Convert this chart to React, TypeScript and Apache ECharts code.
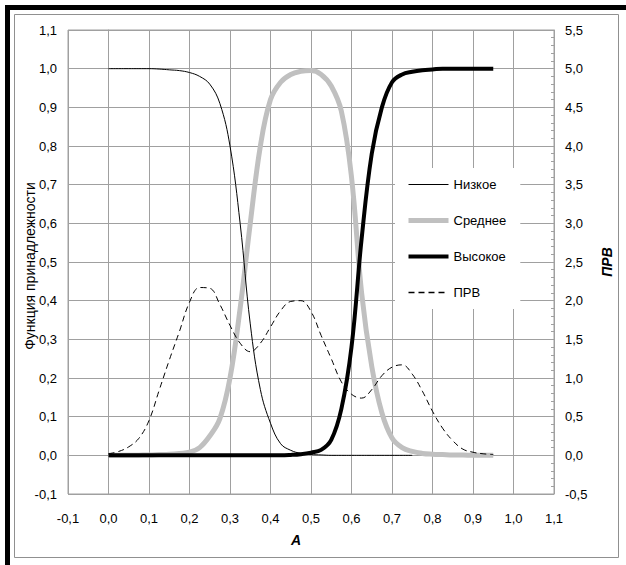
import React, { useEffect, useRef } from 'react';
import * as echarts from 'echarts';

const aValues = [
  0, 0.025, 0.05, 0.075, 0.1, 0.125, 0.15, 0.175, 0.2, 0.225,
  0.25, 0.275, 0.3, 0.325, 0.35, 0.375, 0.4, 0.425, 0.45, 0.475,
  0.5, 0.525, 0.55, 0.575, 0.6, 0.625, 0.65, 0.675, 0.7, 0.725,
  0.75, 0.775, 0.8, 0.825, 0.85, 0.875, 0.9, 0.925, 0.95,
];

const lowValues = [
  1.0, 1.0, 1.0, 1.0, 1.0, 0.999, 0.997, 0.995, 0.99, 0.98,
  0.96, 0.91, 0.8, 0.6, 0.34, 0.17, 0.083, 0.03, 0.013, 0.005,
  0.002, 0.001, 0, 0, 0, 0, 0, 0, 0, 0,
  0, null, null, null, null, null, null, null, null,
];

const midValues = [
  0, 0, 0, 0.0005, 0.001, 0.002, 0.003, 0.005, 0.008, 0.02,
  0.05, 0.095, 0.2, 0.38, 0.6, 0.8, 0.92, 0.965, 0.985, 0.993,
  0.995, 0.985, 0.955, 0.89, 0.72, 0.42, 0.23, 0.11, 0.045, 0.02,
  0.01, 0.005, 0.003, 0.002, 0.001, 0.001, 0, 0, 0,
];

const highValues = [
  0, 0, 0, 0, 0, 0, 0, 0, 0, 0,
  0, 0, 0, 0, 0, 0, 0, 0, 0.001, 0.003,
  0.007, 0.014, 0.04, 0.12, 0.28, 0.56, 0.78, 0.9, 0.965, 0.985,
  0.992, 0.996, 0.998, 1.0, 1.0, 1.0, 1.0, 1.0, 1.0,
];

const prvValues = [
  0.02, 0.05, 0.11, 0.22, 0.45, 0.84, 1.23, 1.6, 1.98, 2.17,
  2.16, 1.95, 1.68, 1.45, 1.34, 1.45, 1.66, 1.87, 1.99, 2.0,
  1.86, 1.55, 1.25, 0.95, 0.79, 0.74, 0.85, 1.03, 1.14, 1.17,
  1.05, 0.83, 0.57, 0.35, 0.19, 0.08, 0.04, 0.02, 0.01,
];

const seriesNames = ['Низкое', 'Среднее', 'Высокое', 'ПРВ'];
const xAxisTitle = 'A';
const leftAxisTitle = 'Функция принадлежности';
const rightAxisTitle = 'ПРВ';

const FONT = '"Liberation Sans", Arial, sans-serif';
const fmt = (v: number) => v.toFixed(1).replace('.', ',');
const pairs = (ys: (number | null)[]) =>
  aValues.map((a, i) => [a, ys[i]]).filter((p) => p[1] !== null);

export default function App() {
  const ref = useRef<HTMLDivElement>(null);
  useEffect(() => {
    if (!ref.current) return;
    const chart = echarts.init(ref.current, undefined, { renderer: 'svg' });
    const gridColor = '#a0a0a0';
    const labelStyle = { color: '#000', fontFamily: FONT, fontSize: 13 };
    const lineStyles = [
      { color: '#000', width: 1, type: 'solid' },
      { color: '#c0c0c0', width: 5, type: 'solid' },
      { color: '#000', width: 4, type: 'solid' },
      { color: '#000', width: 1.3, type: [6, 4] },
    ];
    chart.setOption({
      animation: false,
      backgroundColor: '#fff',
      grid: {
        left: 68,
        right: 72,
        top: 30,
        bottom: 71,
        show: true,
        borderColor: gridColor,
        borderWidth: 1,
        backgroundColor: 'transparent',
      },
      legend: {
        orient: 'vertical',
        left: 395,
        top: 168,
        padding: [10, 14, 10, 11],
        itemWidth: 40,
        itemHeight: 14,
        itemGap: 23,
        backgroundColor: '#fff',
        itemStyle: { opacity: 0 },
        textStyle: { ...labelStyle },
        data: seriesNames.map((name, i) => ({ name, lineStyle: { ...lineStyles[i] } })),
      },
      xAxis: {
        type: 'value',
        min: -0.1,
        max: 1.1,
        interval: 0.1,
        axisLine: { show: true, lineStyle: { color: gridColor } },
        axisTick: { show: false },
        axisLabel: { ...labelStyle, margin: 18, formatter: (v: number) => fmt(v) },
        splitLine: { show: true, lineStyle: { color: gridColor, width: 1 } },
      },
      yAxis: [
        {
          type: 'value',
          min: -0.1,
          max: 1.1,
          interval: 0.1,
          axisLine: { show: true, lineStyle: { color: gridColor } },
          axisTick: { show: false },
          axisLabel: { ...labelStyle, margin: 11, formatter: (v: number) => fmt(v) },
          splitLine: { show: true, lineStyle: { color: gridColor, width: 1 } },
        },
        {
          type: 'value',
          position: 'right',
          min: -0.5,
          max: 5.5,
          interval: 0.5,
          axisLine: { show: true, lineStyle: { color: gridColor } },
          axisTick: { show: true, inside: true, length: 4, lineStyle: { color: gridColor } },
          minorTick: { show: true, splitNumber: 5, length: 3, lineStyle: { color: gridColor } },
          axisLabel: { ...labelStyle, margin: 11, formatter: (v: number) => fmt(v) },
          splitLine: { show: false },
        },
      ],
      series: [
        {
          name: seriesNames[0],
          type: 'line',
          yAxisIndex: 0,
          symbol: 'none',
          smooth: 0.4,
          data: pairs(lowValues),
          lineStyle: { ...lineStyles[0] },
          itemStyle: { color: '#000' },
          z: 3,
        },
        {
          name: seriesNames[1],
          type: 'line',
          yAxisIndex: 0,
          symbol: 'none',
          smooth: 0.4,
          data: pairs(midValues),
          lineStyle: { ...lineStyles[1] },
          itemStyle: { color: '#c0c0c0' },
          z: 2,
        },
        {
          name: seriesNames[2],
          type: 'line',
          yAxisIndex: 0,
          symbol: 'none',
          smooth: 0.4,
          data: pairs(highValues),
          lineStyle: { ...lineStyles[2] },
          itemStyle: { color: '#000' },
          z: 3,
        },
        {
          name: seriesNames[3],
          type: 'line',
          yAxisIndex: 1,
          symbol: 'none',
          smooth: 0.4,
          data: pairs(prvValues),
          lineStyle: { color: '#000', width: 1, type: [6, 4] },
          itemStyle: { color: '#000' },
          z: 4,
        },
      ],
      graphic: [
        { type: 'rect', silent: true, shape: { x: 5, y: 5, width: 5, height: 560 }, style: { fill: '#000' } },
        { type: 'rect', silent: true, shape: { x: 5, y: 5, width: 621, height: 5 }, style: { fill: '#000' } },
        {
          type: 'rect',
          silent: true,
          shape: { x: 14.5, y: 14.5, width: 604, height: 543 },
          style: { fill: 'none', stroke: '#909090', lineWidth: 1 },
        },
        {
          type: 'text',
          x: 296,
          y: 540,
          style: {
            text: xAxisTitle,
            font: `italic bold 14px ${FONT}`,
            fill: '#000',
            align: 'center',
            verticalAlign: 'middle',
          },
        },
        {
          type: 'text',
          x: 607,
          y: 262,
          rotation: Math.PI / 2,
          style: {
            text: rightAxisTitle,
            font: `italic bold 14px ${FONT}`,
            fill: '#000',
            align: 'center',
            verticalAlign: 'middle',
          },
        },
        {
          type: 'text',
          x: 30,
          y: 266,
          rotation: Math.PI / 2,
          style: {
            text: leftAxisTitle,
            font: `14px ${FONT}`,
            fill: '#000',
            align: 'center',
            verticalAlign: 'middle',
          },
        },
      ],
    });
    return () => chart.dispose();
  }, []);
  return (
    <div
      ref={ref}
      style={{ position: 'absolute', left: 0, top: 0, width: 626, height: 565 }}
    />
  );
}
